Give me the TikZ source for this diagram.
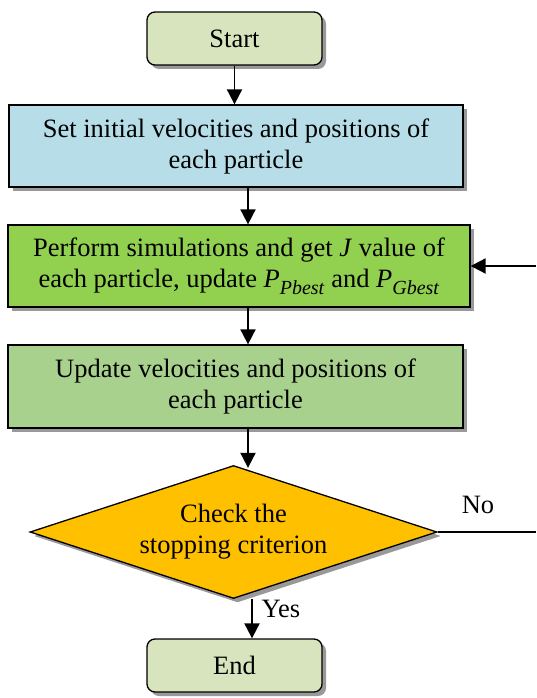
\documentclass[tikz,border=0pt]{standalone}
\usepackage{fontspec}
\setmainfont{Liberation Serif}
\usetikzlibrary{shapes.geometric,shadows,arrows.meta,calc}
\definecolor{startc}{HTML}{D7E4BD}
\definecolor{bluec}{HTML}{B7DEE8}
\definecolor{greenc}{HTML}{92D050}
\definecolor{lgreenc}{HTML}{A9D18E}
\definecolor{orangec}{HTML}{FFC000}
\newcommand{\subit}[1]{\raisebox{-7pt}{\fontsize{20}{20}\selectfont\textit{#1}}}
\begin{document}
\begin{tikzpicture}[x=1pt,y=-1pt,
  sh/.style={drop shadow={shadow xshift=4pt,shadow yshift=-4pt,fill=black!40,opacity=1}},
  base/.style={draw=black,line width=1.3pt,inner sep=0pt,align=center,font=\fontsize{26.5}{31}\selectfont,sh},
  term/.style={base,rounded corners=8pt,minimum width=175pt,minimum height=53pt,fill=startc},
  procbox/.style={base,rectangle,minimum height=82pt},
  decision/.style={base,diamond,aspect=3,minimum width=407pt,minimum height=133pt,fill=orangec},
  arr/.style={line width=1.9pt,-{Triangle[width=15pt,length=15pt]}},
  lbl/.style={font=\fontsize{26.5}{31}\selectfont,inner sep=0pt}]
\useasboundingbox (0,0) rectangle (536,698);
\node[term] (start) at (234.5,38.5) {Start};
\node[procbox,fill=bluec,minimum width=454pt] (b1) at (236,146)
  {Set initial velocities and positions of\\each particle};
\node[procbox,fill=greenc,minimum width=462pt] (b2) at (239,266)
  {Perform simulations and get \textit{J} value of\\each particle, update \textit{P}\subit{Pbest} and \textit{P}\subit{Gbest}};
\node[procbox,fill=lgreenc,minimum width=455pt,minimum height=83pt] (b3) at (235.5,386.5)
  {Update velocities and positions of\\each particle};
\node[decision] (dia) at (233.5,532) {Check the\\stopping criterion};
\node[term] (end) at (234.5,665.5) {End};
\coordinate (col) at (248,0);
\coordinate (ycol) at (252,0);
\coordinate (fb) at (536,266);
\coordinate (no) at (536,532);
\draw[arr] (start.south) -- (start.south |- b1.north);
\draw[arr] (b1.south -| col) -- (b2.north -| col);
\draw[arr] (b2.south -| col) -- (b3.north -| col);
\draw[arr] (b3.south -| col) -- ($(dia.north -| col)+(0,3)$);
\draw[arr] (dia.south -| ycol) -- (end.north -| ycol);
\draw[arr] (fb) -- (b2.east);
\draw[line width=1.9pt] (dia.east) -- (no);
\node[lbl] (yes) at (281,609) {Yes};
\node[lbl] (nol) at (478,505) {No};
\end{tikzpicture}
\end{document}
